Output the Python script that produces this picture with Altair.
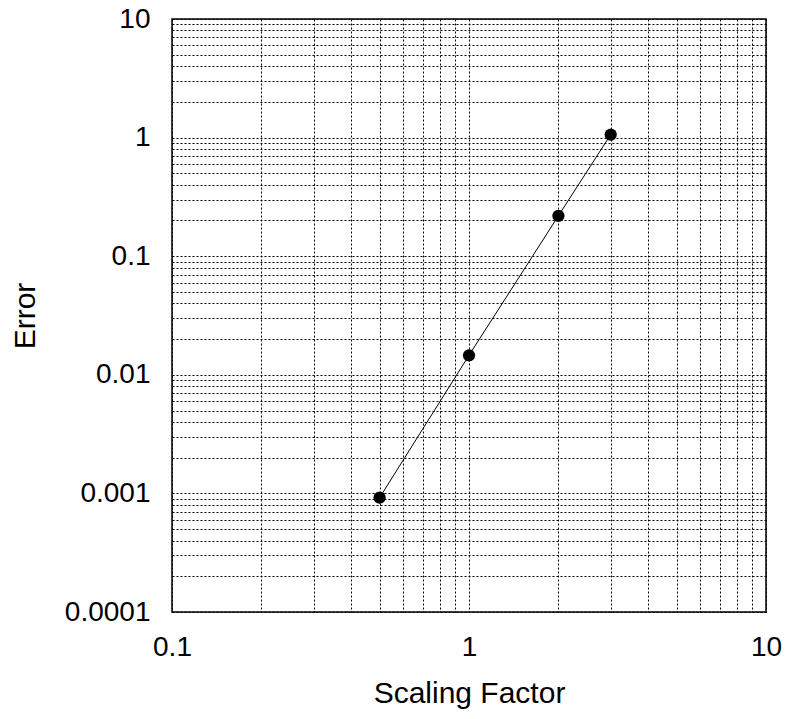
import altair as alt
import pandas as pd

# Measured error against scaling factor
scaling = [0.5, 1, 2, 3]
error = [0.00092, 0.0146, 0.219, 1.06]

# Grid positions: every 1..9 multiple inside each decade
x_grid = [m * 10.0 ** e for e in range(-1, 1) for m in range(1, 10)] + [10.0]
y_grid = [m * 10.0 ** e for e in range(-4, 1) for m in range(1, 10)] + [10.0]

df = pd.DataFrame({"scale": scaling, "err": error})

FONT = "Liberation Sans"
label_expr = (
    "abs(log(datum.value)/LN10 - round(log(datum.value)/LN10)) < 1e-6 "
    "? format(datum.value, '~g') : ''"
)

x_enc = alt.X(
    "scale:Q",
    scale=alt.Scale(type="log", domain=[0.1, 10], nice=False),
    axis=alt.Axis(
        title="Scaling Factor",
        values=x_grid,
        labelExpr=label_expr,
        labelOverlap=False,
        labelFlush=False,
        ticks=False,
        labelPadding=21,
        titlePadding=17,
        grid=True,
        gridDash=[2, 2],
        gridColor="#000000",
        gridOpacity=1,
        gridWidth=1,
        domain=False,
    ),
)
y_enc = alt.Y(
    "err:Q",
    scale=alt.Scale(type="log", domain=[0.0001, 10], nice=False),
    axis=alt.Axis(
        title="Error",
        values=y_grid,
        labelExpr=label_expr,
        labelOverlap=False,
        labelFlush=False,
        ticks=False,
        labelPadding=22,
        titlePadding=24,
        grid=True,
        gridDash=[2, 2],
        gridColor="#000000",
        gridOpacity=1,
        gridWidth=1,
        domain=False,
    ),
)

line = alt.Chart(df).mark_line(color="black", strokeWidth=1).encode(x=x_enc, y=y_enc)
pts = alt.Chart(df).mark_circle(color="black", opacity=1, size=150).encode(x=x_enc, y=y_enc)

chart = (
    alt.layer(line, pts)
    .properties(
        width=594,
        height=593,
        autosize=alt.AutoSizeParams(type="none"),
        padding={"left": 172, "top": 19, "right": 19, "bottom": 107},
        background="white",
    )
    .configure_view(stroke="black", strokeWidth=1.5)
    .configure_axis(
        labelFont=FONT,
        titleFont=FONT,
        labelFontSize=28,
        titleFontSize=30,
        labelColor="black",
        titleColor="black",
        titleFontWeight="normal",
    )
)

chart.save("out.html", embed_options={"renderer": "svg", "actions": False})
